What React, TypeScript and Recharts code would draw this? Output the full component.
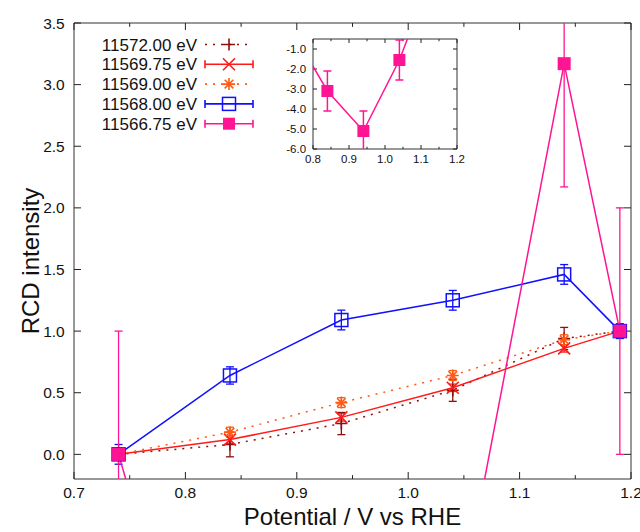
import React from "react";
import { ComposedChart, Line, XAxis, YAxis, ErrorBar, CartesianGrid } from "recharts";

// potentials (V vs RHE) shared by every series
const potentials = [0.74, 0.84, 0.94, 1.04, 1.14, 1.19];

const seriesNames = ["11572.00 eV", "11569.75 eV", "11569.00 eV", "11568.00 eV", "11566.75 eV"];

const rcd11572 = [0, 0.08, 0.25, 0.52, 0.94, 1.0];
const err11572 = [0.02, 0.1, 0.09, 0.09, 0.09, 0.02];
const rcd11569p75 = [0, 0.12, 0.3, 0.54, 0.86, 1.0];
const err11569p75 = [0.02, 0.03, 0.03, 0.03, 0.03, 0.02];
const rcd11569 = [0, 0.18, 0.42, 0.64, 0.93, 1.0];
const err11569 = [0.02, 0.04, 0.04, 0.04, 0.04, 0.02];
const rcd11568 = [0, 0.64, 1.09, 1.25, 1.46, 1.0];
const err11568 = [0.08, 0.07, 0.08, 0.08, 0.08, 0.06];
const rcd11566p75 = [0, -3.1, -5.1, -1.55, 3.17, 1.0];
const err11566p75 = [1.0, 1.0, 1.0, 1.0, 1.0, 1.0];

const xTicks = [0.7, 0.75, 0.8, 0.85, 0.9, 0.95, 1.0, 1.05, 1.1, 1.15, 1.2];
const yTicks = [0, 0.5, 1.0, 1.5, 2.0, 2.5, 3.0, 3.5];
const insetXTicks = [0.8, 0.85, 0.9, 0.95, 1.0, 1.05, 1.1, 1.15, 1.2];
const insetYTicks = [-6, -5, -4, -3, -2, -1];

const FONT = "'Liberation Sans', Arial, Helvetica, sans-serif";

type MarkerKind = "plus" | "cross" | "star" | "openSquare" | "filledSquare";

const toRows = (vals: number[], errs: number[]) =>
  potentials.map((x, i) => ({ x, y: vals[i], err: errs[i] }));

const series = [
  { id: "s11572", name: seriesNames[0], data: toRows(rcd11572, err11572), color: "#8b1010", dash: "2 6", marker: "plus" as MarkerKind },
  { id: "s11569p75", name: seriesNames[1], data: toRows(rcd11569p75, err11569p75), color: "#ff1a1a", dash: undefined, marker: "cross" as MarkerKind },
  { id: "s11569", name: seriesNames[2], data: toRows(rcd11569, err11569), color: "#ff5a14", dash: "2 6", marker: "star" as MarkerKind },
  { id: "s11568", name: seriesNames[3], data: toRows(rcd11568, err11568), color: "#1010ff", dash: undefined, marker: "openSquare" as MarkerKind },
  { id: "s11566p75", name: seriesNames[4], data: toRows(rcd11566p75, err11566p75), color: "#ff1493", dash: undefined, marker: "filledSquare" as MarkerKind },
];

const Marker = ({ kind, cx, cy, color, size = 6 }: { kind: MarkerKind; cx: number; cy: number; color: string; size?: number }) => {
  const s = size;
  const d = s * 0.72;
  switch (kind) {
    case "plus":
      return <path d={`M${cx - s},${cy}H${cx + s}M${cx},${cy - s}V${cy + s}`} stroke={color} strokeWidth={1.6} fill="none" />;
    case "cross":
      return <path d={`M${cx - s},${cy - s}L${cx + s},${cy + s}M${cx - s},${cy + s}L${cx + s},${cy - s}`} stroke={color} strokeWidth={1.6} fill="none" />;
    case "star":
      return (
        <path
          d={`M${cx - s},${cy}H${cx + s}M${cx},${cy - s}V${cy + s}M${cx - d},${cy - d}L${cx + d},${cy + d}M${cx - d},${cy + d}L${cx + d},${cy - d}`}
          stroke={color}
          strokeWidth={1.6}
          fill="none"
        />
      );
    case "openSquare":
      return <rect x={cx - s - 0.5} y={cy - s - 0.5} width={2 * s + 1} height={2 * s + 1} fill="none" stroke={color} strokeWidth={1.5} />;
    default:
      return <rect x={cx - s} y={cy - s} width={2 * s} height={2 * s} fill={color} />;
  }
};

const dotFor = (kind: MarkerKind, color: string, size?: number) => (props: any) => {
  const { cx, cy, index } = props;
  if (cx == null || cy == null) return <g key={`m-${index}`} />;
  return (
    <g key={`m-${index}`}>
      <Marker kind={kind} cx={cx} cy={cy} color={color} size={size} />
    </g>
  );
};

const isMajor = (v: number) => Math.abs(v * 10 - Math.round(v * 10)) < 1e-6;

const BottomTick = (fontSize: number, len: number) => (props: any) => {
  const { x, y, payload } = props;
  const major = isMajor(payload.value);
  return (
    <g>
      <line x1={x} x2={x} y1={y} y2={y - (major ? len : len * 0.55)} stroke="#222" />
      {major && (
        <text x={x} y={y + fontSize * 1.25} textAnchor="middle" fontSize={fontSize} fontFamily={FONT} fill="#111">
          {payload.value.toFixed(1)}
        </text>
      )}
    </g>
  );
};

const TopTick = (len: number) => (props: any) => {
  const { x, y, payload } = props;
  const major = isMajor(payload.value);
  return <line x1={x} x2={x} y1={y} y2={y + (major ? len : len * 0.55)} stroke="#222" />;
};

const LeftTick = (fontSize: number, len: number) => (props: any) => {
  const { x, y, payload } = props;
  return (
    <g>
      <line x1={x} x2={x + len} y1={y} y2={y} stroke="#222" />
      <text x={x - fontSize * 0.6} y={y + fontSize * 0.36} textAnchor="end" fontSize={fontSize} fontFamily={FONT} fill="#111">
        {payload.value.toFixed(1)}
      </text>
    </g>
  );
};

const RightTick = (len: number) => (props: any) => {
  const { x, y } = props;
  return <line x1={x} x2={x - len} y1={y} y2={y} stroke="#222" />;
};

const LegendBox = () => (
  <svg width={190} height={110} style={{ display: "block" }}>
    {series.map((s, i) => {
      const cy = 14.5 + i * 19.8;
      return (
        <g key={s.name}>
          <text x={117} y={cy + 6} textAnchor="end" fontSize={17} fontFamily={FONT} fill="#111">
            {s.name}
          </text>
          <line x1={125} x2={173} y1={cy} y2={cy} stroke={s.color} strokeWidth={1.6} strokeDasharray={s.dash} />
          {!s.dash && <path d={`M125,${cy - 4}V${cy + 4}M173,${cy - 4}V${cy + 4}`} stroke={s.color} strokeWidth={1.6} />}
          <Marker kind={s.marker} cx={149} cy={cy} color={s.color} />
        </g>
      );
    })}
  </svg>
);

const pink = series[4];
const AXIS = { stroke: "#333" };

// layer "axes" draws frame, ticks and titles; layer "series" draws the data and is clipped to the plot box
const MainChart = ({ layer }: { layer: "axes" | "series" }) => {
  const axes = layer === "axes";
  return (
    <ComposedChart width={640} height={532} margin={{ top: 22, right: 8, left: 0, bottom: 0 }}>
      <XAxis xAxisId="b" type="number" dataKey="x" domain={[0.7, 1.2]} allowDataOverflow ticks={xTicks} interval={0}
        height={53} tickSize={0} tickMargin={0} tickLine={false} axisLine={axes ? AXIS : false} tick={axes ? BottomTick(15.5, 7) : false}
        label={axes ? {
          content: (p: any) => (
            <text x={p.viewBox.x + p.viewBox.width / 2} y={p.viewBox.y + 46} textAnchor="middle" fontSize={24} fontFamily={FONT} fill="#111">
              Potential / V vs RHE
            </text>
          ),
        } : undefined}
      />
      <XAxis xAxisId="t" type="number" dataKey="x" orientation="top" domain={[0.7, 1.2]} allowDataOverflow ticks={xTicks} interval={0}
        height={1} tickSize={0} tickMargin={0} tickLine={false} axisLine={axes ? AXIS : false} tick={axes ? TopTick(7) : false} />
      <YAxis yAxisId="l" type="number" domain={[-0.2, 3.5]} allowDataOverflow ticks={yTicks} interval={0}
        width={74} tickSize={0} tickMargin={0} tickLine={false} axisLine={axes ? AXIS : false} tick={axes ? LeftTick(15.5, 7) : false}
        label={axes ? {
          content: (p: any) => {
            const cx = 30;
            const cy = p.viewBox.y + p.viewBox.height / 2 + 10;
            return (
              <text x={cx} y={cy} transform={`rotate(-90 ${cx} ${cy})`} textAnchor="middle" dominantBaseline="central" fontSize={24} fontFamily={FONT} fill="#111">
                RCD intensity
              </text>
            );
          },
        } : undefined}
      />
      <YAxis yAxisId="r" type="number" orientation="right" domain={[-0.2, 3.5]} allowDataOverflow ticks={yTicks} interval={0}
        width={1} tickSize={0} tickMargin={0} tickLine={false} axisLine={axes ? AXIS : false} tick={axes ? RightTick(7) : false} />
      <Line id={`frame-${layer}`} xAxisId="t" yAxisId="r" data={series[0].data} dataKey="y" stroke="none" dot={false} activeDot={false} isAnimationActive={false} />
      {series.map((s) => (
        <Line key={s.name} id={`${s.id}-${layer}`} xAxisId="b" yAxisId="l" data={s.data} dataKey="y" name={s.name} type="linear"
          stroke={axes ? "none" : s.color} strokeWidth={1.5} strokeDasharray={s.dash}
          dot={axes ? false : dotFor(s.marker, s.color, s.marker === "filledSquare" ? 6.5 : 6)} activeDot={false} isAnimationActive={false}>
          {!axes && <ErrorBar dataKey="err" direction="y" width={4} stroke={s.color} strokeWidth={1.3} />}
        </Line>
      ))}
    </ComposedChart>
  );
};

const InsetChart = ({ layer }: { layer: "axes" | "series" }) => {
  const axes = layer === "axes";
  return (
    <ComposedChart width={194} height={139} margin={{ top: 8, right: 9, left: 0, bottom: 0 }}>
      {axes && <CartesianGrid xAxisId="b" yAxisId="l" horizontal={false} vertical={false} fill="#fff" />}
      <XAxis xAxisId="b" type="number" dataKey="x" domain={[0.8, 1.2]} allowDataOverflow ticks={insetXTicks} interval={0}
        height={20} tickSize={0} tickMargin={0} tickLine={false} axisLine={axes ? AXIS : false} tick={axes ? BottomTick(11.5, 4) : false} />
      <XAxis xAxisId="t" type="number" dataKey="x" orientation="top" domain={[0.8, 1.2]} allowDataOverflow ticks={insetXTicks} interval={0}
        height={1} tickSize={0} tickMargin={0} tickLine={false} axisLine={axes ? AXIS : false} tick={axes ? TopTick(4) : false} />
      <YAxis yAxisId="l" type="number" domain={[-6, -0.5]} allowDataOverflow ticks={insetYTicks} interval={0}
        width={40} tickSize={0} tickMargin={0} tickLine={false} axisLine={axes ? AXIS : false} tick={axes ? LeftTick(11.5, 4) : false} />
      <YAxis yAxisId="r" type="number" orientation="right" domain={[-6, -0.5]} allowDataOverflow ticks={insetYTicks} interval={0}
        width={1} tickSize={0} tickMargin={0} tickLine={false} axisLine={axes ? AXIS : false} tick={axes ? RightTick(4) : false} />
      <Line id={`inset-frame-${layer}`} xAxisId="t" yAxisId="r" data={pink.data} dataKey="y" stroke="none" dot={false} activeDot={false} isAnimationActive={false} />
      <Line id={`inset-pink-${layer}`} xAxisId="b" yAxisId="l" data={pink.data} dataKey="y" type="linear" stroke={axes ? "none" : pink.color} strokeWidth={1.5}
        dot={axes ? false : dotFor("filledSquare", pink.color, 6)} activeDot={false} isAnimationActive={false}>
        {!axes && <ErrorBar dataKey="err" direction="y" width={4} stroke={pink.color} strokeWidth={1.5} />}
      </Line>
    </ComposedChart>
  );
};

export default function App() {
  return (
    <div style={{ position: "absolute", left: 0, top: 0, width: 640, height: 532, background: "#fff", fontFamily: FONT }}>
      <div style={{ position: "absolute", left: 0, top: 0 }}>
        <MainChart layer="axes" />
      </div>
      <div style={{ position: "absolute", left: 0, top: 0, clipPath: "inset(23px 9px 53px 74px)" }}>
        <MainChart layer="series" />
      </div>
      <div style={{ position: "absolute", left: 80, top: 30 }}>
        <LegendBox />
      </div>
      <div style={{ position: "absolute", left: 273, top: 30 }}>
        <InsetChart layer="axes" />
      </div>
      <div style={{ position: "absolute", left: 273, top: 30, clipPath: "inset(9px 10px 20px 40px)" }}>
        <InsetChart layer="series" />
      </div>
    </div>
  );
}
